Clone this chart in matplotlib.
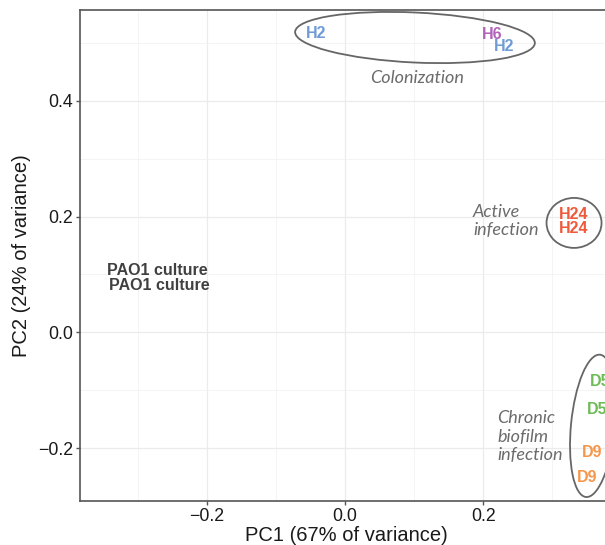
import matplotlib.pyplot as plt
import matplotlib.transforms as transforms
from matplotlib.patches import Ellipse

# PCA scores
pc1 = [-0.0412, 0.2133, 0.2307, 0.330, 0.330, 0.369, 0.364, 0.358, 0.350, -0.272, -0.269]
pc2 = [0.5163, 0.5134, 0.4932, 0.2028, 0.1786, -0.0854, -0.1337, -0.2079, -0.2510, 0.1067, 0.0817]
samples = ['H2', 'H6', 'H2', 'H24', 'H24', 'D5', 'D5', 'D9', 'D9', 'PAO1 culture', 'PAO1 culture']

sample_colors = {'H2': '#6f9bd6', 'H6': '#b163ba', 'H24': '#ef5a3c',
                 'D5': '#6dbb57', 'D9': '#f5964a', 'PAO1 culture': '#404040'}

# group annotations: text, text x, text y, ellipse centre x, centre y, width (in), height (in), angle
groups = ['Colonization', 'Active\ninfection', 'Chronic\nbiofilm\ninfection']
group_text_x = [0.104, 0.185, 0.2198]
group_text_y = [0.439, 0.1924, -0.180]
group_text_ha = ['center', 'left', 'left']
ell_x = [0.1012, 0.3312, 0.3586]
ell_y = [0.509, 0.189, -0.1613]
ell_w = [2.40, 0.55, 1.43]
ell_h = [0.50, 0.50, 0.44]
ell_ang = [-2.7, 0, 84.4]

plt.rcParams['font.family'] = ['Liberation Sans', 'DejaVu Sans']

fig = plt.figure(figsize=(6.05, 5.45), dpi=100)
ax = fig.add_axes([80 / 605, 44 / 545, 532 / 605, 491 / 545])

ax.set_xlim(-0.3832, 0.3861)
ax.set_ylim(-0.291, 0.5565)

ax.set_xticks([-0.2, 0.0, 0.2])
ax.set_xticklabels(['\u22120.2', '0.0', '0.2'])
ax.set_yticks([-0.2, 0.0, 0.2, 0.4])
ax.set_yticklabels(['\u22120.2', '0.0', '0.2', '0.4'])
ax.set_xticks([-0.3, -0.1, 0.1, 0.3], minor=True)
ax.set_yticks([-0.1, 0.1, 0.3, 0.5], minor=True)

ax.grid(which='major', color='#ebebeb', lw=0.9)
ax.grid(which='minor', color='#f2f2f2', lw=0.6)
ax.set_axisbelow(True)
ax.tick_params(which='major', length=3, width=1, color='#555555', labelsize=12.8,
               labelcolor='#1a1a1a', pad=2)
ax.tick_params(which='minor', length=0)
for s in ax.spines.values():
    s.set_color('#555555')
    s.set_linewidth(1.2)

ax.set_xlabel('PC1 (67% of variance)', fontsize=14.5, color='#1a1a1a', labelpad=1)
ax.set_ylabel('PC2 (24% of variance)', fontsize=14.5, color='#1a1a1a', labelpad=5)

for x, y, s in zip(pc1, pc2, samples):
    ax.text(x, y, s, color=sample_colors[s], fontsize=11.5, fontweight='bold',
            ha='center', va='center')

for i in range(len(groups)):
    ax.text(group_text_x[i], group_text_y[i], groups[i], fontsize=13, style='italic',
            family=['Lato', 'DejaVu Sans'], color='#6b6b6b', ha=group_text_ha[i],
            va='center', linespacing=1.2)
    trans = fig.dpi_scale_trans + transforms.ScaledTranslation(ell_x[i], ell_y[i], ax.transData)
    ax.add_patch(Ellipse((0, 0), ell_w[i], ell_h[i], angle=ell_ang[i], fill=False,
                         edgecolor='#666666', lw=1.3, transform=trans, clip_on=False))

fig.savefig('out.png', dpi=100)
